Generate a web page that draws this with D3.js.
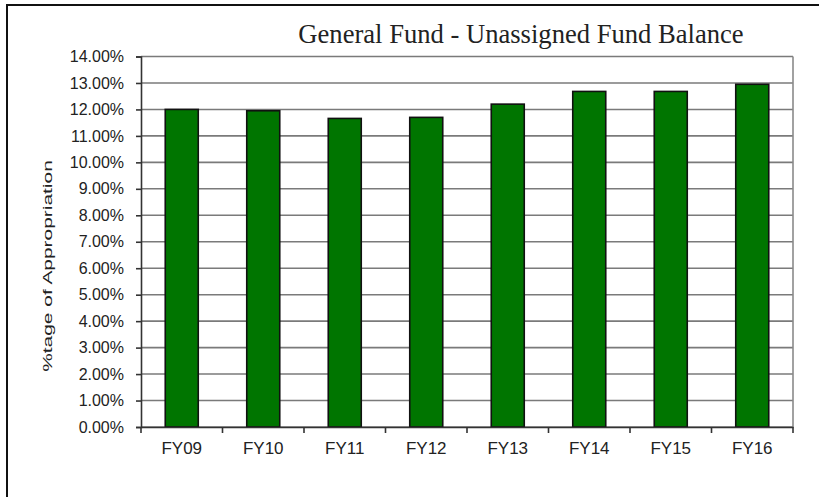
<!DOCTYPE html>
<html lang="en">
    <head>
        <meta charset="utf-8">
        <title>General Fund - Unassigned Fund Balance</title>
        <script src="https://d3js.org/d3.v7.min.js"></script>
        <style>
            body { margin: 0; background: #fff; }
            text { font-family: "Liberation Sans", Arial, sans-serif; fill: #222; }
        </style>
    </head>
    <body>
        <div id="dataviz"></div>
        <script>
            // values
            var years = ["FY09", "FY10", "FY11", "FY12", "FY13", "FY14", "FY15", "FY16"];
            var balance = [0.1200, 0.1195, 0.1166, 0.1170, 0.1220, 0.1268, 0.1268, 0.1295];
            var yDomain = [0, 0.14];

            var data = years.map(function(y, i) { return {year: y, value: balance[i]}; });

            var W = 819, H = 497;
            var margin = {top: 56.5, right: 26, bottom: 70, left: 141};

            var svg = d3.select("#dataviz")
                        .append("svg")
                        .attr("width", W)
                        .attr("height", H);

            // outer frame (only top + left edges show in the crop)
            svg.append("rect")
                .attr("x", 7).attr("y", 5)
                .attr("width", W + 20).attr("height", H + 20)
                .attr("fill", "none")
                .attr("stroke", "#111")
                .attr("stroke-width", 2);

            var x = d3.scaleBand()
                        .domain(years)
                        .range([margin.left, W - margin.right])
                        .padding(0);

            var y = d3.scaleLinear()
                        .domain(yDomain)
                        .range([H - margin.bottom, margin.top]);

            var ticks = y.ticks(14);

            // gridlines
            svg.append("g")
                .selectAll("line")
                .data(ticks)
                .enter()
                .append("line")
                .attr("x1", margin.left)
                .attr("x2", W - margin.right)
                .attr("y1", function(d) { return y(d); })
                .attr("y2", function(d) { return y(d); })
                .attr("stroke", "#7a7a7a")
                .attr("stroke-width", 1.6);

            // right border of plot area
            svg.append("line")
                .attr("x1", W - margin.right).attr("x2", W - margin.right)
                .attr("y1", margin.top).attr("y2", H - margin.bottom)
                .attr("stroke", "#8a8a8a")
                .attr("stroke-width", 1.6);

            // bars
            var barW = x.bandwidth() * 0.405;
            svg.append("g")
                .selectAll("rect")
                .data(data)
                .enter()
                .append("rect")
                .attr("x", function(d) { return x(d.year) + (x.bandwidth() - barW) / 2; })
                .attr("y", function(d) { return y(d.value); })
                .attr("width", barW)
                .attr("height", function(d) { return y(0) - y(d.value); })
                .attr("fill", "#007500")
                .attr("stroke", "#111")
                .attr("stroke-width", 1.6);

            // y axis
            var yAxis = svg.append("g")
                .attr("transform", "translate(" + margin.left + ",0)")
                .call(d3.axisLeft(y).tickValues(ticks).tickFormat(d3.format(".2%")).tickSize(5).tickPadding(12));
            yAxis.selectAll("path, line").attr("stroke", "#333").attr("stroke-width", 1.6);
            yAxis.selectAll("text")
                .style("font-size", "16px")
                .style("font-family", "Liberation Sans, Arial, sans-serif")
                .attr("fill", "#222");

            // x axis, ticks on the band edges
            var xAxis = svg.append("g")
                .attr("transform", "translate(0," + y(0) + ")")
                .call(d3.axisBottom(x).tickSize(0).tickPadding(15));
            xAxis.select("path").attr("stroke", "#333").attr("stroke-width", 1.6);
            xAxis.selectAll("text")
                .style("font-size", "17px")
                .style("font-family", "Liberation Sans, Arial, sans-serif")
                .attr("fill", "#222");
            xAxis.selectAll(".edge")
                .data(years.map(function(d) { return x(d); }).concat([x.range()[1]]))
                .enter()
                .append("line")
                .attr("class", "edge")
                .attr("x1", function(d) { return d; })
                .attr("x2", function(d) { return d; })
                .attr("y1", 0)
                .attr("y2", 6)
                .attr("stroke", "#333")
                .attr("stroke-width", 1.6);

            // title
            svg.append("text")
                .attr("x", 521)
                .attr("y", 43)
                .attr("text-anchor", "middle")
                .style("font-family", "Liberation Serif, Times New Roman, serif")
                .style("font-size", "26.6px")
                .style("fill", "#222")
                .text("General Fund - Unassigned Fund Balance");

            // y axis title
            svg.append("text")
                .attr("transform", "translate(52,266) rotate(-90) scale(1.55,1)")
                .attr("text-anchor", "middle")
                .style("font-size", "13.5px")
                .text("%tage of Appropriation");
        </script>
    </body>
</html>
